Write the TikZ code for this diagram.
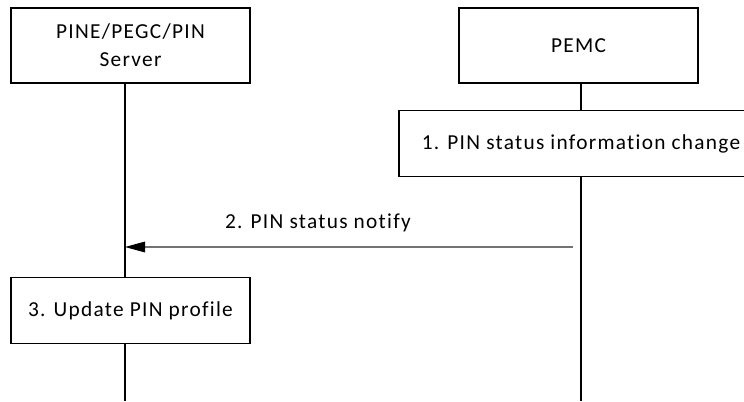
\documentclass[tikz,border=0pt]{standalone}
\usepackage{fontspec}
\setmainfont{Carlito}[LetterSpace=6,Ligatures=CommonOff]
\usetikzlibrary{arrows.meta}
\tikzset{
  entity/.style={draw, line width=1.1pt, minimum width=179.25pt, minimum height=56.25pt,
    inner sep=0pt, align=center, font=\fontsize{16}{21}\selectfont},
  stepbox/.style={draw, line width=1.1pt, minimum height=49.5pt, inner sep=0pt,
    font=\fontsize{16}{21}\selectfont},
  lifeline/.style={line width=1.1pt},
  message/.style={draw=black!55, line width=0.8pt, -{Triangle[length=15pt,width=8pt,fill=black,color=black]}}
}
\begin{document}
\begin{tikzpicture}[x=0.75pt,y=-0.75pt]
  \clip (0,0) rectangle (744,401);
  \useasboundingbox (0,0) rectangle (744,401);

  % Drawing the entities
  \node [entity] (server) at (130.5,45.5) {PINE/PEGC/PIN\\Server};
  \node [entity] (pemc) at (578.5,45.5) {PEMC};

  % Drawing the steps
  \node [stepbox, minimum width=273pt] (change) at (581,143.5) {1. PIN status information change};
  \node [stepbox, minimum width=179.25pt] (update) at (130.5,310.5) {3. Update PIN profile};

  % Drawing the lifelines
  \coordinate (serverTop) at (125,83);
  \coordinate (serverEnd) at (125,401);
  \coordinate (pemcTop) at (581,83);
  \coordinate (pemcEnd) at (581,401);
  \draw [lifeline] (serverTop) -- (update.north -| serverTop);
  \draw [lifeline] (update.south -| serverTop) -- (serverEnd);
  \draw [lifeline] (pemcTop) -- (change.north -| pemcTop);
  \draw [lifeline] (change.south -| pemcTop) -- (pemcEnd);

  % Drawing message 2
  \coordinate (notifyStart) at (573,247);
  \coordinate (notifyEnd) at (125,247);
  \draw [message] (notifyStart) -- (notifyEnd);
  \node [font=\fontsize{16}{21}\selectfont, anchor=base] (notify) at (318,228) {2. PIN status notify};
\end{tikzpicture}
\end{document}
